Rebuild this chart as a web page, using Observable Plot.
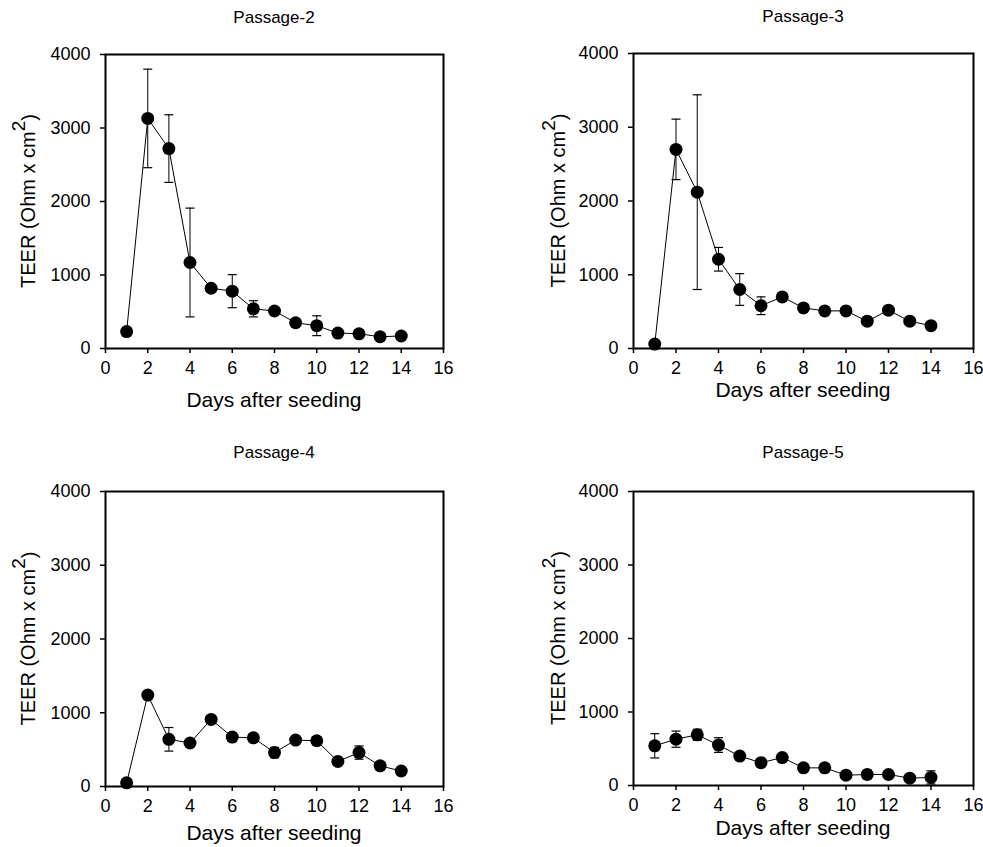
<!DOCTYPE html>
<html><head><meta charset="utf-8">
<script src="https://cdn.jsdelivr.net/npm/d3@7"></script>
<script src="https://cdn.jsdelivr.net/npm/@observablehq/plot@0.6"></script>
<style>
body{margin:0;background:#fff;}
#root{position:relative;width:983px;height:847px;font-family:"Liberation Sans",Arial,sans-serif;}
.panel{position:absolute;}
</style></head><body><div id="root"></div>
<script>
const days = [1,2,3,4,5,6,7,8,9,10,11,12,13,14];
const xTicks = [0,2,4,6,8,10,12,14,16];
const yTicks = [0,1000,2000,3000,4000];
const titles = ["Passage-2","Passage-3","Passage-4","Passage-5"];
const xLabel = "Days after seeding";
const yLabelMain = "TEER (Ohm x cm";
const yLabelSup = "2";

const p2Mean = [230,3130,2720,1170,820,780,540,510,350,310,210,200,160,170];
const p2Err  = [0,670,460,740,0,225,110,0,0,135,0,0,0,0];
const p3Mean = [60,2700,2120,1210,800,580,700,550,510,510,370,520,370,310];
const p3Err  = [0,410,1320,160,215,120,0,0,0,0,0,0,0,0];
const p4Mean = [50,1240,640,590,910,670,660,460,630,620,340,460,280,210];
const p4Err  = [0,0,160,50,0,60,0,70,0,0,0,90,0,0];
const p5Mean = [540,630,690,550,400,310,380,240,240,140,150,150,100,110];
const p5Err  = [165,110,75,100,0,0,0,0,0,40,60,50,0,90];

const layout = [
  {left:0,   top:0,   width:490, height:420, mL:105, mR:47, mT:54, mB:72, titleY:23, xLabY:407, yLabX:35},
  {left:490, top:0,   width:493, height:420, mL:143, mR:10, mT:53, mB:72, titleY:22, xLabY:397, yLabX:75},
  {left:0,   top:420, width:490, height:427, mL:105, mR:47, mT:71, mB:61, titleY:38, xLabY:420, yLabX:35},
  {left:490, top:420, width:493, height:427, mL:143, mR:10, mT:71, mB:62, titleY:38, xLabY:415, yLabX:75}
];
const means = [p2Mean,p3Mean,p4Mean,p5Mean];
const errs = [p2Err,p3Err,p4Err,p5Err];

const capSymbol = {draw(context, size){ const r = Math.sqrt(size/Math.PI); context.moveTo(-r,0); context.lineTo(r,0); }};
const FONT = '"Liberation Sans", Arial, sans-serif';
const root = document.getElementById("root");

layout.forEach((L, i) => {
  const data = days.map((d, k) => ({day:d, mean:means[i][k], err:errs[i][k]}));
  const eb = data.filter(d => d.err > 0).map(d => ({day:d.day, lo:d.mean-d.err, hi:d.mean+d.err}));
  const caps = eb.flatMap(d => [{day:d.day, v:d.lo},{day:d.day, v:d.hi}]);
  const chart = Plot.plot({
    width:L.width, height:L.height,
    marginLeft:L.mL, marginRight:L.mR, marginTop:L.mT, marginBottom:L.mB,
    style:{fontFamily:FONT, fontSize:"18px", color:"black", background:"white", overflow:"visible"},
    x:{domain:[0,16]},
    y:{domain:[0,4000]},
    marks:[
      Plot.axisX({ticks:xTicks, tickSize:5, tickPadding:8, tickFormat:"d", label:null, strokeWidth:1.5, fontSize:18}),
      Plot.axisY({ticks:yTicks, tickSize:5, tickPadding:10, tickFormat:"d", label:null, strokeWidth:1.5, fontSize:18}),
      Plot.ruleX(eb, {x:"day", y1:"lo", y2:"hi", stroke:"black", strokeWidth:1}),
      Plot.dot(caps, {x:"day", y:"v", symbol:capSymbol, r:4.5, fill:"none", stroke:"black", strokeWidth:1.2}),
      Plot.line(data, {x:"day", y:"mean", stroke:"black", strokeWidth:1}),
      Plot.dot(data, {x:"day", y:"mean", r:6.5, fill:"black", stroke:"none"}),
      Plot.frame({stroke:"black", strokeWidth:2})
    ]
  });
  const div = document.createElement("div");
  div.className = "panel";
  div.style.left = L.left + "px";
  div.style.top = L.top + "px";
  div.appendChild(chart);
  root.appendChild(div);

  const svg = d3.select(chart);
  const cx = L.mL + (L.width - L.mL - L.mR)/2;
  const cy = L.mT + (L.height - L.mT - L.mB)/2;
  svg.append("text").attr("x", cx).attr("y", L.titleY).attr("text-anchor","middle")
    .attr("font-size", 17).attr("font-family", FONT).attr("fill","black").text(titles[i]);
  svg.append("text").attr("x", cx).attr("y", L.xLabY).attr("text-anchor","middle")
    .attr("font-size", 21).attr("font-family", FONT).attr("fill","black").text(xLabel);
  const yl = svg.append("text").attr("transform", `translate(${L.yLabX},${cy}) rotate(-90)`)
    .attr("text-anchor","middle").attr("font-size", 20).attr("font-family", FONT).attr("fill","black");
  yl.append("tspan").text(yLabelMain);
  yl.append("tspan").attr("dy","-0.55em").attr("font-size", 19).text(yLabelSup);
  yl.append("tspan").attr("dy","0.55em").text(")");
});
</script></body></html>
